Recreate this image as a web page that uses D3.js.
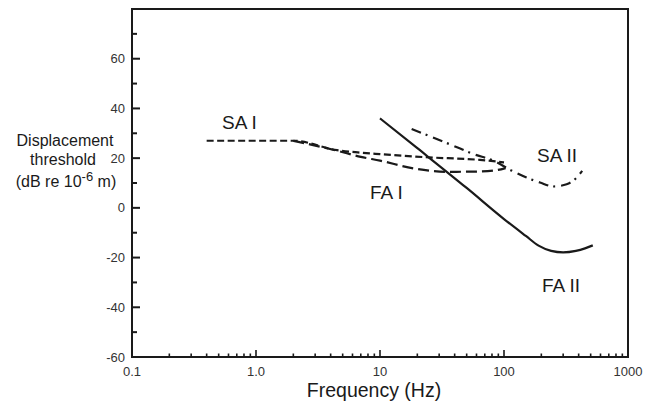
<!DOCTYPE html>
<html>
<head>
<meta charset="utf-8">
<script src="https://cdn.jsdelivr.net/npm/d3@7"></script>
<style>
  body { margin: 0; background: #fff; }
  svg { display: block; font-family: 'Liberation Sans', Arial, sans-serif; }
</style>
</head>
<body>
<svg id="chart" width="654" height="406"></svg>
<script>
// threshold curves (Hz, dB re 1 um)
let saIFreq = [0.4, 2, 4.5, 7, 10, 25, 64, 100]
let saIDb = [27, 27, 23.2, 22.2, 21.6, 20.3, 19.3, 18.3]

let faIFreq = [2, 4.5, 7, 10, 18.6, 35, 60, 88, 103]
let faIDb = [27, 23, 20.5, 19, 15.9, 14.5, 14.6, 15.2, 16]

let saIIFreq = [18, 39, 57, 82, 116, 152, 195, 251, 320, 386, 427]
let saIIDb = [31.7, 25, 21.6, 19, 14.9, 12.2, 10.2, 8.6, 9.5, 12.2, 14.9]

let faIIFreq = [10, 20, 50, 100, 150, 190, 240, 300, 380, 450, 520]
let faIIDb = [36, 24, 8, -4.5, -11.3, -15.2, -17.3, -17.9, -17.3, -16.3, -15.1]

let xTickValues = [0.1, 1, 10, 100, 1000]
let xTickLabels = ['0.1', '1.0', '10', '100', '1000']
let yTickValues = [-60, -40, -20, 0, 20, 40, 60]
let yMinorValues = [-50, -30, -10, 10, 30, 50, 70]

let curveLabels = ['SA I', 'FA I', 'SA II', 'FA II']

let svg = d3.select('#chart')
let grid = { left: 132, right: 628, top: 9, bottom: 357 }
let ink = '#1a1a1a'

let scaleX = d3.scaleLog().domain([0.1, 1000]).range([grid.left, grid.right])
let scaleY = d3.scaleLinear().domain([-60, 80]).range([grid.bottom, grid.top])

// box
svg.append('rect')
  .attr('x', grid.left)
  .attr('y', grid.top)
  .attr('width', grid.right - grid.left)
  .attr('height', grid.bottom - grid.top)
  .attr('fill', 'none')
  .attr('stroke', ink)
  .attr('stroke-width', 2)

// y axis, ticks pointing inward
let yAxis = svg.append('g').attr('transform', `translate(${grid.left},0)`)
yAxis.selectAll('line.major')
  .data(yTickValues)
  .join('line')
  .attr('class', 'major')
  .attr('x1', 0).attr('x2', 8)
  .attr('y1', d => scaleY(d)).attr('y2', d => scaleY(d))
  .attr('stroke', ink).attr('stroke-width', 2)
yAxis.selectAll('line.minor')
  .data(yMinorValues)
  .join('line')
  .attr('class', 'minor')
  .attr('x1', 0).attr('x2', 5)
  .attr('y1', d => scaleY(d)).attr('y2', d => scaleY(d))
  .attr('stroke', ink).attr('stroke-width', 2)
yAxis.selectAll('text')
  .data(yTickValues)
  .join('text')
  .attr('x', -7)
  .attr('y', d => scaleY(d))
  .attr('dy', '0.35em')
  .attr('text-anchor', 'end')
  .attr('font-size', 13)
  .attr('fill', '#333')
  .text(d => d)

// x axis, log minors
let xMinor = []
for (let dec = 0.1; dec < 1000; dec *= 10) {
  for (let m = 2; m <= 9; m++) xMinor.push(+(dec * m).toPrecision(3))
}
let xAxis = svg.append('g').attr('transform', `translate(0,${grid.bottom})`)
xAxis.selectAll('line.minor')
  .data(xMinor)
  .join('line')
  .attr('class', 'minor')
  .attr('x1', d => scaleX(d)).attr('x2', d => scaleX(d))
  .attr('y1', 0).attr('y2', -3.5)
  .attr('stroke', ink).attr('stroke-width', 1.6)
xAxis.selectAll('line.major')
  .data(xTickValues.slice(1, -1))
  .join('line')
  .attr('class', 'major')
  .attr('x1', d => scaleX(d)).attr('x2', d => scaleX(d))
  .attr('y1', 0).attr('y2', -7)
  .attr('stroke', ink).attr('stroke-width', 1.6)
xAxis.selectAll('text')
  .data(xTickValues)
  .join('text')
  .attr('x', d => scaleX(d))
  .attr('y', 18.5)
  .attr('text-anchor', 'middle')
  .attr('font-size', 13)
  .attr('fill', '#333')
  .text((d, i) => xTickLabels[i])

// axis titles
svg.append('text')
  .attr('x', 374)
  .attr('y', 397)
  .attr('text-anchor', 'middle')
  .attr('font-size', 19.5)
  .attr('fill', ink)
  .text('Frequency (Hz)')

let yTitle = svg.append('g')
  .attr('font-size', 16)
  .attr('fill', ink)
  .attr('text-anchor', 'middle')
yTitle.append('text').attr('x', 65).attr('y', 146).text('Displacement')
yTitle.append('text').attr('x', 63).attr('y', 165).text('threshold')
let unit = yTitle.append('text').attr('x', 66).attr('y', 187)
unit.append('tspan').text('(dB re 10')
unit.append('tspan').attr('dy', -6).attr('font-size', 13).text('-6')
unit.append('tspan').attr('dy', 6).text(' m)')

// curves
let line = d3.line()
  .x(d => scaleX(d[0]))
  .y(d => scaleY(d[1]))
  .curve(d3.curveMonotoneX)

let series = [
  { f: saIFreq, v: saIDb, dash: '7,3.5' },
  { f: faIFreq, v: faIDb, dash: '11,5' },
  { f: saIIFreq, v: saIIDb, dash: '10,5,2,6' },
  { f: faIIFreq, v: faIIDb, dash: null },
]
series.forEach(s => {
  svg.append('path')
    .attr('d', line(s.f.map((f, i) => [f, s.v[i]])))
    .attr('fill', 'none')
    .attr('stroke', ink)
    .attr('stroke-width', 2.2)
    .attr('stroke-dasharray', s.dash)
})

// curve labels, placed next to each curve
let labelPos = [[222, 129], [370, 199], [537, 162], [542, 292]]
svg.selectAll('text.lc-label')
  .data(curveLabels)
  .join('text')
  .attr('class', 'lc-label')
  .attr('x', (d, i) => labelPos[i][0])
  .attr('y', (d, i) => labelPos[i][1])
  .attr('font-size', 19)
  .attr('fill', ink)
  .text(d => d)
</script>
</body>
</html>
